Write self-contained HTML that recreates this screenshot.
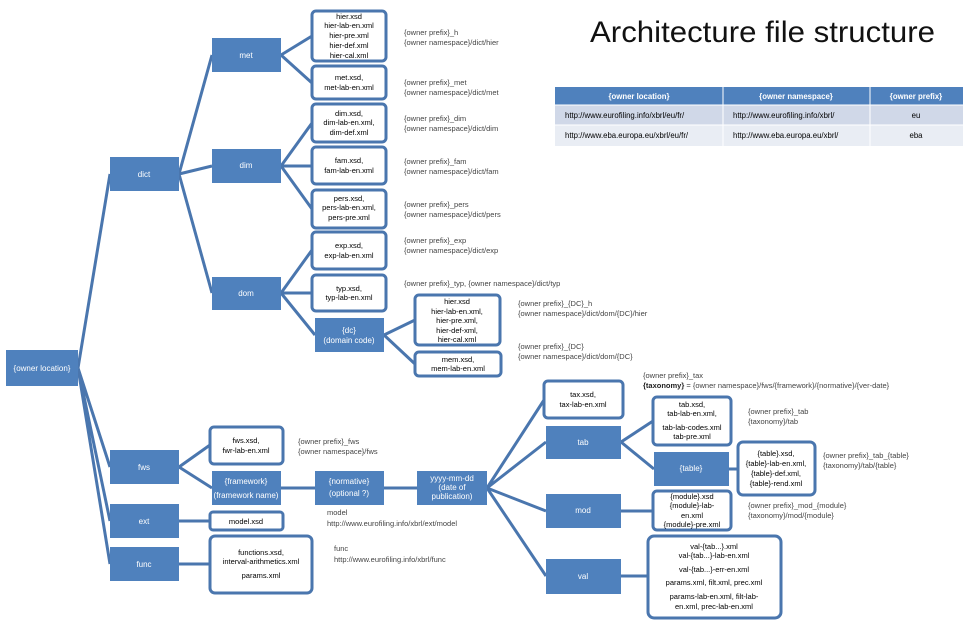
<!DOCTYPE html>
<html><head><meta charset="utf-8"><style>
body{margin:0;background:#fff;}
svg{display:block;font-family:"Liberation Sans",sans-serif;}
.f{fill:#4F81BD;}
.o{fill:#fff;stroke:#4A76AE;stroke-width:3;}
.l{stroke:#4A76AE;stroke-width:3;fill:none;}
.w{fill:#fff;font-size:8px;text-anchor:middle;}
.b{fill:#000;font-size:7.5px;text-anchor:middle;}
.a{fill:#444;font-size:7.5px;}
</style></head><body>
<svg width="980" height="622" viewBox="0 0 980 622">
<g class="l">
<path d="M78 368L110 174M78 368L110 467M78 368L110 521M78 368L110 564"/>
<path d="M179 174L212 55M179 174L212 166M179 174L212 293"/>
<path d="M281 55L312 36M281 55L312 83"/>
<path d="M281 166L312 123M281 166L312 166M281 166L312 209"/>
<path d="M281 293L312 250M281 293L312 293M281 293L315 335"/>
<path d="M384 335L415 320M384 335L415 364"/>
<path d="M179 467L210 445M179 467L212 488M179 521L210 521M179 564L210 564"/>
<path d="M281 488L315 488M384 488L417 488"/>
<path d="M487 488L544 400M487 488L546 442M487 488L546 511M487 488L546 576"/>
<path d="M621 442L653 421M621 442L654 469M729 469L738 469M621 511L653 511M621 576L648 576"/>
</g>
<g>
<rect class="f" x="6" y="350" width="72" height="36"/><text class="w" x="42" y="371">{owner location}</text>
<rect class="f" x="110" y="157" width="69" height="34"/><text class="w" x="144" y="177">dict</text>
<rect class="f" x="212" y="38" width="69" height="34"/><text class="w" x="246" y="58">met</text>
<rect class="f" x="212" y="149" width="69" height="34"/><text class="w" x="246" y="168">dim</text>
<rect class="f" x="212" y="277" width="69" height="33"/><text class="w" x="246" y="296">dom</text>
<rect class="f" x="110" y="450" width="69" height="34"/><text class="w" x="144" y="470">fws</text>
<rect class="f" x="110" y="504" width="69" height="34"/><text class="w" x="144" y="524">ext</text>
<rect class="f" x="110" y="547" width="69" height="34"/><text class="w" x="144" y="567">func</text>
<rect class="f" x="212" y="471" width="69" height="34"/><text class="w" x="246" y="484">{framework}</text><text class="w" x="246" y="498">(framework name)</text>
<rect class="f" x="315" y="471" width="69" height="34"/><text class="w" x="349" y="484">{normative}</text><text class="w" x="349" y="496">(optional ?)</text>
<rect class="f" x="417" y="471" width="70" height="34"/><text class="w" x="452" y="481">yyyy-mm-dd</text><text class="w" x="452" y="490">(date of</text><text class="w" x="452" y="499">publication)</text>
<rect class="f" x="315" y="318" width="69" height="34"/><text class="w" x="349" y="333">{dc}</text><text class="w" x="349" y="343">(domain code)</text>
<rect class="f" x="546" y="426" width="75" height="33"/><text class="w" x="583" y="445">tab</text>
<rect class="f" x="654" y="452" width="75" height="34"/><text class="w" x="691" y="471">{table}</text>
<rect class="f" x="546" y="494" width="75" height="34"/><text class="w" x="583" y="513">mod</text>
<rect class="f" x="546" y="559" width="75" height="35"/><text class="w" x="583" y="579">val</text>
</g>
<g>
<rect class="o" x="312" y="11" width="74" height="50" rx="4"/>
<text class="b" x="349" y="19">hier.xsd</text><text class="b" x="349" y="28">hier-lab-en.xml</text><text class="b" x="349" y="38">hier-pre.xml</text><text class="b" x="349" y="48">hier-def.xml</text><text class="b" x="349" y="58">hier-cal.xml</text>
<rect class="o" x="312" y="66" width="74" height="33" rx="4"/><text class="b" x="349" y="80">met.xsd,</text><text class="b" x="349" y="90">met-lab-en.xml</text>
<rect class="o" x="312" y="104" width="74" height="38" rx="4"/><text class="b" x="349" y="116">dim.xsd,</text><text class="b" x="349" y="125">dim-lab-en.xml,</text><text class="b" x="349" y="135">dim-def.xml</text>
<rect class="o" x="312" y="147" width="74" height="37" rx="4"/><text class="b" x="349" y="163">fam.xsd,</text><text class="b" x="349" y="173">fam-lab-en.xml</text>
<rect class="o" x="312" y="190" width="74" height="38" rx="4"/><text class="b" x="349" y="201">pers.xsd,</text><text class="b" x="349" y="210">pers-lab-en.xml,</text><text class="b" x="349" y="220">pers-pre.xml</text>
<rect class="o" x="312" y="232" width="74" height="37" rx="4"/><text class="b" x="349" y="248">exp.xsd,</text><text class="b" x="349" y="258">exp-lab-en.xml</text>
<rect class="o" x="312" y="275" width="74" height="36" rx="4"/><text class="b" x="349" y="291">typ.xsd,</text><text class="b" x="349" y="300">typ-lab-en.xml</text>
<rect class="o" x="415" y="295" width="85" height="50" rx="4"/>
<text class="b" x="457" y="304">hier.xsd</text><text class="b" x="457" y="314">hier-lab-en.xml,</text><text class="b" x="457" y="323">hier-pre.xml,</text><text class="b" x="457" y="333">hier-def-xml,</text><text class="b" x="457" y="342">hier-cal.xml</text>
<rect class="o" x="415" y="352" width="86" height="24" rx="4"/><text class="b" x="458" y="362">mem.xsd,</text><text class="b" x="458" y="371">mem-lab-en.xml</text>
<rect class="o" x="210" y="427" width="73" height="37" rx="4"/><text class="b" x="246" y="443">fws.xsd,</text><text class="b" x="246" y="453">fwr-lab-en.xml</text>
<rect class="o" x="210" y="512" width="73" height="18" rx="3"/><text class="b" x="246" y="524">model.xsd</text>
<rect class="o" x="210" y="536" width="102" height="57" rx="5"/><text class="b" x="261" y="555">functions.xsd,</text><text class="b" x="261" y="564">interval-arithmetics.xml</text><text class="b" x="261" y="578">params.xml</text>
<rect class="o" x="544" y="381" width="79" height="37" rx="4"/><text class="b" x="583" y="397">tax.xsd,</text><text class="b" x="583" y="407">tax-lab-en.xml</text>
<rect class="o" x="653" y="397" width="78" height="48" rx="4"/><text class="b" x="692" y="407">tab.xsd,</text><text class="b" x="692" y="416">tab-lab-en.xml,</text><text class="b" x="692" y="430">tab-lab-codes.xml</text><text class="b" x="692" y="439">tab-pre.xml</text>
<rect class="o" x="738" y="442" width="77" height="53" rx="5"/><text class="b" x="776" y="456">{table}.xsd,</text><text class="b" x="776" y="466">{table}-lab-en.xml,</text><text class="b" x="776" y="476">{table}-def.xml,</text><text class="b" x="776" y="486">{table}-rend.xml</text>
<rect class="o" x="653" y="491" width="78" height="39" rx="4"/><text class="b" x="692" y="499">{module}.xsd</text><text class="b" x="692" y="508">{module}-lab-</text><text class="b" x="692" y="518">en.xml</text><text class="b" x="692" y="527">{module}-pre.xml</text>
<rect class="o" x="648" y="536" width="133" height="82" rx="6"/>
<text class="b" x="714" y="549">val-{tab...}.xml</text><text class="b" x="714" y="558">val-{tab...}-lab-en.xml</text><text class="b" x="714" y="572">val-{tab...}-err-en.xml</text><text class="b" x="714" y="585">params.xml,  filt.xml,  prec.xml</text><text class="b" x="714" y="599">params-lab-en.xml, filt-lab-</text><text class="b" x="714" y="609">en.xml, prec-lab-en.xml</text>
</g>
<g class="a">
<text x="404" y="35">{owner prefix}_h</text><text x="404" y="45">{owner namespace}/dict/hier</text>
<text x="404" y="85">{owner prefix}_met</text><text x="404" y="95">{owner namespace}/dict/met</text>
<text x="404" y="121">{owner prefix}_dim</text><text x="404" y="131">{owner namespace}/dict/dim</text>
<text x="404" y="164">{owner prefix}_fam</text><text x="404" y="174">{owner namespace}/dict/fam</text>
<text x="404" y="207">{owner prefix}_pers</text><text x="404" y="217">{owner namespace}/dict/pers</text>
<text x="404" y="243">{owner prefix}_exp</text><text x="404" y="253">{owner namespace}/dict/exp</text>
<text x="404" y="286">{owner prefix}_typ, {owner namespace}/dict/typ</text>
<text x="518" y="306">{owner prefix}_{DC}_h</text><text x="518" y="316">{owner namespace}/dict/dom/{DC}/hier</text>
<text x="518" y="349">{owner prefix}_{DC}</text><text x="518" y="359">{owner namespace}/dict/dom/{DC}</text>
<text x="298" y="444">{owner prefix}_fws</text><text x="298" y="454">{owner namespace}/fws</text>
<text x="327" y="515">model</text><text x="327" y="526">http://www.eurofiling.info/xbrl/ext/model</text>
<text x="334" y="551">func</text><text x="334" y="562">http://www.eurofiling.info/xbrl/func</text>
<text x="643" y="378">{owner prefix}_tax</text><text x="643" y="388"><tspan font-weight="bold" fill="#222">{taxonomy}</tspan> = {owner namespace}/fws/{framework}/{normative}/{ver-date}</text>
<text x="748" y="414">{owner prefix}_tab</text><text x="748" y="424">{taxonomy}/tab</text>
<text x="823" y="458">{owner prefix}_tab_{table}</text><text x="823" y="468">{taxonomy}/tab/{table}</text>
<text x="748" y="508">{owner prefix}_mod_{module}</text><text x="748" y="518">{taxonomy}/mod/{module}</text>
</g>
<text x="590" y="42" font-size="30" fill="#111" textLength="345" lengthAdjust="spacingAndGlyphs">Architecture file structure</text>
<rect x="555" y="87" width="408" height="18" fill="#4F81BD"/>
<rect x="555" y="105" width="408" height="20" fill="#D0D8E8"/>
<rect x="555" y="125" width="408" height="21" fill="#E9EDF4"/>
<path d="M723 87V146M870 87V146M555 105H963M555 125H963" stroke="#fff" stroke-width="1"/>
<g font-size="7.8">
<text x="639" y="99" fill="#fff" font-weight="bold" text-anchor="middle">{owner location}</text>
<text x="796" y="99" fill="#fff" font-weight="bold" text-anchor="middle">{owner namespace}</text>
<text x="916" y="99" fill="#fff" font-weight="bold" text-anchor="middle">{owner prefix}</text>
<text x="565" y="118" fill="#000">http://www.eurofiling.info/xbrl/eu/fr/</text>
<text x="733" y="118" fill="#000">http://www.eurofiling.info/xbrl/</text>
<text x="916" y="118" fill="#000" text-anchor="middle">eu</text>
<text x="565" y="138" fill="#000">http://www.eba.europa.eu/xbrl/eu/fr/</text>
<text x="733" y="138" fill="#000">http://www.eba.europa.eu/xbrl/</text>
<text x="916" y="138" fill="#000" text-anchor="middle">eba</text>
</g>
</svg>
</body></html>
